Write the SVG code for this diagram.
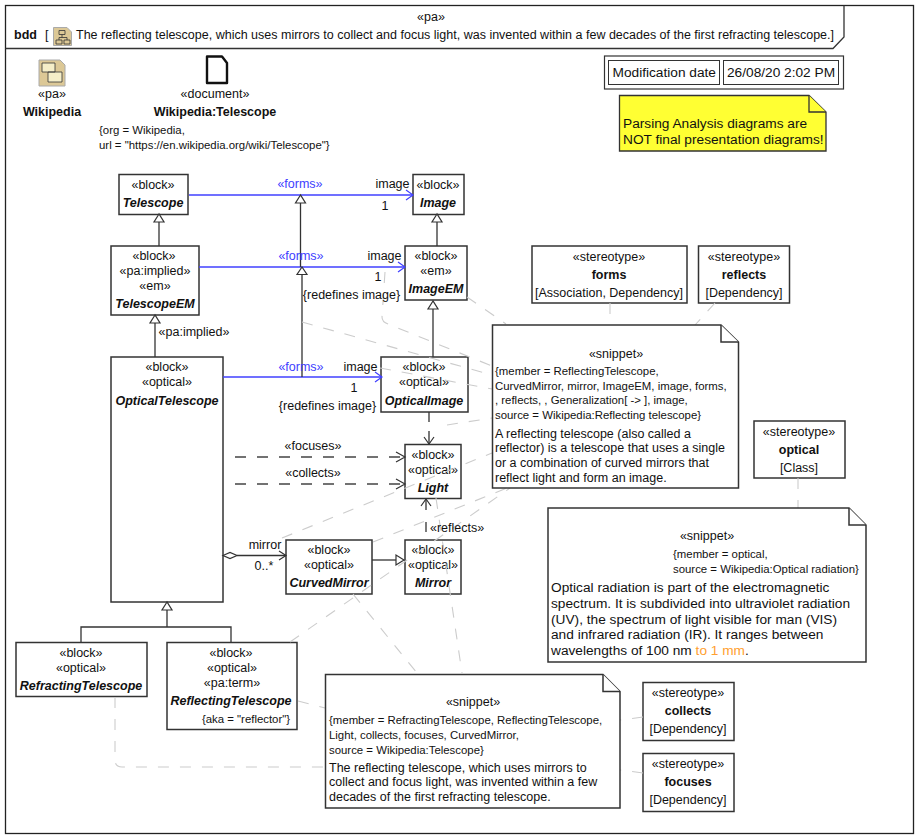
<svg xmlns="http://www.w3.org/2000/svg" width="920" height="840" viewBox="0 0 920 840">
<style>
text{font-family:"Liberation Sans",Arial,sans-serif;font-size:12.5px;fill:#111;text-anchor:middle}
.s{font-size:11.4px}
.m{font-size:13.7px}
.l{text-anchor:start}
.b{font-weight:bold}
.bi{font-weight:bold;font-style:italic}
.box{fill:#fff;stroke:#333;stroke-width:1.5}
.ln{fill:none;stroke:#333;stroke-width:1.3}
.bl{fill:none;stroke:#4040ff;stroke-width:1.3}
.blt{fill:#4040ff}
.dash{fill:none;stroke:#444;stroke-width:1.3;stroke-dasharray:11 11}
.anc{fill:none;stroke:#ccc;stroke-width:1.1;stroke-dasharray:11 11}
.tri{fill:#fff;stroke:#333;stroke-width:1.2}
.op{fill:none;stroke:#333;stroke-width:1.2}
.opb{fill:none;stroke:#4040ff;stroke-width:1.2}
</style>
<rect width="920" height="840" fill="#fff"/>
<g id="frame">
<rect x="5.500" y="5.500" width="908" height="828" fill="#fff" stroke="#222" stroke-width="1.300"/>
<path d="M5.500 48.500H833L844 37V5.500" fill="none" stroke="#333" stroke-width="1.300"/>
<text x="431" y="21">«pa»</text>
<text class="b l" x="14" y="39">bdd</text>
<text class="l" x="45" y="39">[</text>
<path d="M53.500 27.500H67L71.500 32V45.500H53.500Z" fill="#dcc896" stroke="#aaa"/>
<path d="M59 30.500h6v4h-6zM56 40h6v4h-6zM64 40h6v4h-6zM62 34.500v3M59 37.500h8M59 37.500v2.500M67 37.500v2.500" fill="none" stroke="#333" stroke-width=".8"/>
<text class="l" x="76" y="39">The reflecting telescope, which uses mirrors to collect and focus light, was invented within a few decades of the first refracting telescope.]</text>
</g>
<g id="n-wikipedia">
<path d="M39 60H60L65 65V86H39Z" fill="#dcc896" stroke="#aaa"/>
<path d="M42 63h13v9h-13zM48 72h14v10h-14z" fill="#f5eec8" stroke="#333" stroke-width=".8"/>
<text x="52" y="98">«pa»</text><text class="b" x="52" y="116">Wikipedia</text>
</g>
<g id="n-document">
<path d="M207 56.500H222L227 63V83H207Z" fill="#fff" stroke="#111" stroke-width="2.400" stroke-linejoin="round"/>
<text x="215" y="98">«document»</text><text class="b" x="215" y="116">Wikipedia:Telescope</text>
<text class="s l" x="99" y="134">{org = Wikipedia,</text><text class="s l" x="99" y="149">url = "https://en.wikipedia.org/wiki/Telescope"}</text>
</g>
<g id="n-moddate">
<rect x="604.500" y="56" width="239" height="33" fill="#fff" stroke="#333" stroke-width="1.200"/>
<rect x="608.500" y="60.500" width="111" height="24" fill="#fff" stroke="#333"/>
<rect x="723.500" y="60.500" width="115" height="24" fill="#fff" stroke="#333"/>
<text class="l m" x="612.500" y="77">Modification date</text><text class="l m" x="727" y="77">26/08/20 2:02 PM</text>
</g>
<g id="n-warning">
<path d="M619.500 95.500H809L826 112V151H619.500Z" fill="#ffff33" stroke="#333" stroke-width="1.300"/>
<path d="M809 95.500V112H826" fill="#ffff33" stroke="#333" stroke-width="1.300"/>
<text class="l m" x="623" y="128">Parsing Analysis diagrams are</text><text class="l m" x="623" y="144">NOT final presentation diagrams!</text>
</g>
<g id="n-telescope"><rect class="box" x="119" y="174.500" width="69" height="40"/><text x="153" y="189">«block»</text><text class="bi" x="153" y="207">Telescope</text></g>
<g id="n-image"><rect class="box" x="413" y="174.500" width="51" height="40"/><text x="438" y="189">«block»</text><text class="bi" x="438" y="207">Image</text></g>
<g id="n-telescopeem"><rect class="box" x="111" y="246" width="88" height="69"/><text x="154" y="260">«block»</text><text x="155" y="275">«pa:implied»</text><text x="155" y="290">«em»</text><text class="bi" x="155" y="308">TelescopeEM</text></g>
<g id="n-imageem"><rect class="box" x="405" y="246" width="62" height="54"/><text x="436" y="260">«block»</text><text x="436" y="275">«em»</text><text class="bi" x="436" y="293">ImageEM</text></g>
<g id="n-opticaltelescope"><rect class="box" x="111" y="357" width="112" height="245"/><text x="167" y="371">«block»</text><text x="167" y="386">«optical»</text><text class="bi" x="167" y="405">OpticalTelescope</text></g>
<g id="n-opticalimage"><rect class="box" x="381" y="357" width="87" height="55"/><text x="424" y="371">«block»</text><text x="424" y="386">«optical»</text><text class="bi" x="424" y="405">OpticalImage</text></g>
<g id="n-light"><rect class="box" x="405" y="444.500" width="56" height="54"/><text x="433" y="459">«block»</text><text x="433" y="474">«optical»</text><text class="bi" x="433" y="492">Light</text></g>
<g id="n-curvedmirror"><rect class="box" x="286" y="540" width="86" height="54"/><text x="329" y="554">«block»</text><text x="329" y="569">«optical»</text><text class="bi" x="329" y="587">CurvedMirror</text></g>
<g id="n-mirror"><rect class="box" x="405" y="540" width="56" height="54"/><text x="433" y="554">«block»</text><text x="433" y="569">«optical»</text><text class="bi" x="433" y="587">Mirror</text></g>
<g id="n-refracting"><rect class="box" x="16" y="642.500" width="131" height="54"/><text x="81" y="657">«block»</text><text x="81" y="672">«optical»</text><text class="bi" x="81" y="690">RefractingTelescope</text></g>
<g id="n-reflecting"><rect class="box" x="167" y="642.500" width="130" height="87"/><text x="231" y="657">«block»</text><text x="232" y="672">«optical»</text><text x="232" y="687">«pa:term»</text><text class="bi" x="231" y="705">ReflectingTelescope</text><text class="s" x="246" y="723">{aka = "reflector"}</text></g>
<g id="n-forms"><rect class="box" x="532" y="246" width="155" height="57"/><text x="609" y="261">«stereotype»</text><text class="b" x="609" y="279">forms</text><text x="609" y="297">[Association, Dependency]</text></g>
<g id="n-reflects"><rect class="box" x="698.500" y="246" width="91" height="57"/><text x="744" y="261">«stereotype»</text><text class="b" x="744" y="279">reflects</text><text x="744" y="297">[Dependency]</text></g>
<g id="n-optical"><rect class="box" x="754" y="421" width="91" height="57"/><text x="799" y="436">«stereotype»</text><text class="b" x="799" y="454">optical</text><text x="799" y="472">[Class]</text></g>
<g id="n-collects"><rect class="box" x="643" y="682.500" width="91" height="58"/><text x="688" y="697">«stereotype»</text><text class="b" x="688" y="715">collects</text><text x="688" y="733">[Dependency]</text></g>
<g id="n-focuses"><rect class="box" x="643" y="753.500" width="91" height="58"/><text x="688" y="768">«stereotype»</text><text class="b" x="688" y="786">focuses</text><text x="688" y="804">[Dependency]</text></g>
<g id="connectors">
<path class="bl" d="M189 195H413"/><path class="opb" d="M406 190L413 195L406 200"/>
<path class="bl" d="M199 267H405"/><path class="opb" d="M398 262L405 267L398 272"/>
<path class="bl" d="M223 377H382"/><path class="opb" d="M375 372L382 377L375 382"/>
<path class="ln" d="M300.500 203V267M302 274V377"/>
<path class="tri" d="M300.500 195L295.500 203H305.500Z"/>
<path class="tri" d="M302 267L297 274.500H307Z"/>
<path class="ln" d="M159 246V222"/><path class="tri" d="M159 214L154 222H164Z"/>
<path class="ln" d="M155 357V323"/><path class="tri" d="M155 315L150 323H160Z"/>
<path class="ln" d="M437 246V222"/><path class="tri" d="M437 214L432 222H442Z"/>
<path class="ln" d="M433 357V309"/><path class="tri" d="M433 301L428 309H438Z"/>
<path class="ln" d="M429 412V422M429 431V444"/><path class="op" d="M424 437L429 444L434 437"/>
<path class="dash" d="M235 457H404"/><path class="op" d="M396 452L405 457L396 462"/>
<path class="dash" d="M235 484H404"/><path class="op" d="M396 479L405 484L396 489"/>
<path class="ln" d="M426 510V499"/><path class="op" d="M421 506L426 499L431 506"/>
<path class="ln" d="M426 522V532"/>
<path class="ln" d="M237 555.500H286"/><path class="tri" d="M223 555.500L230 552.500L237 555.500L230 558.500Z"/><path class="op" d="M279 551L286 555.500L279 560"/>
<path class="ln" d="M372 560H396"/><path class="tri" d="M404 560L396 555V565Z"/>
<path class="ln" d="M167 610V627M81 642V627H231V643"/><path class="tri" d="M167 602L162 610H172Z"/>
<path class="anc" d="M610 303V325M715 303L695 325M467 297L506 324M302 322L492 375M385 272L382 317Q382 322 388 324L492 366M380 368L492 389M447 425L492 418M282 538L492 453M373 542L507 488M290 642L510 488M298 701L325 708M115 697V760Q115 767 122 767H325M353 594L417 673M436 498L462 673M643 717L620 720M643 773L620 770M798 478V508"/>
</g>
<g id="n-snippet1">
<path class="box" d="M492.500 325H721L738.500 342V488H492.500Z"/><path class="box" d="M721 325V342H738.500"/>
<text x="616" y="358">«snippet»</text>
<text class="s l" x="495" y="375">{member = ReflectingTelescope,</text><text class="s l" x="495" y="390">CurvedMirror, mirror, ImageEM, image, forms,</text><text class="s l" x="495" y="404">, reflects, , Generalization[ -&gt; ], image,</text><text class="s l" x="495" y="419">source = Wikipedia:Reflecting telescope}</text>
<text class="l" x="495" y="438">A reflecting telescope (also called a</text><text class="l" x="495" y="452">reflector) is a telescope that uses a single</text><text class="l" x="495" y="467">or a combination of curved mirrors that</text><text class="l" x="495" y="482">reflect light and form an image.</text>
</g>
<g id="n-snippet2">
<path class="box" d="M548 508H849L866 525V662H548Z"/><path class="box" d="M849 508V525H866"/>
<text x="707" y="540">«snippet»</text>
<text class="s l" x="673" y="558">{member = optical,</text><text class="s l" x="673" y="573">source = Wikipedia:Optical radiation}</text>
<text class="l m" x="551" y="592">Optical radiation is part of the electromagnetic</text><text class="l m" x="551" y="608">spectrum. It is subdivided into ultraviolet radiation</text><text class="l m" x="551" y="624">(UV), the spectrum of light visible for man (VIS)</text><text class="l m" x="551" y="639">and infrared radiation (IR). It ranges between</text><text class="l m" x="551" y="655">wavelengths of 100 nm <tspan fill="#ffa030">to 1 mm</tspan>.</text>
</g>
<g id="n-snippet3">
<path class="box" d="M325.500 674.500H603L620 691.500V808H325.500Z"/><path class="box" d="M603 674.500V691.500H620"/>
<text x="473" y="706">«snippet»</text>
<text class="s l" x="329" y="724">{member = RefractingTelescope, ReflectingTelescope,</text><text class="s l" x="329" y="739">Light, collects, focuses, CurvedMirror,</text><text class="s l" x="329" y="754">source = Wikipedia:Telescope}</text>
<text class="l" x="329" y="772">The reflecting telescope, which uses mirrors to</text><text class="l" x="329" y="786">collect and focus light, was invented within a few</text><text class="l" x="329" y="801">decades of the first refracting telescope.</text>
</g>
<g id="labels">
<text class="blt" x="300" y="188">«forms»</text><text x="392.500" y="188">image</text><text x="385" y="210">1</text>
<text class="blt" x="301" y="260">«forms»</text><text x="384.500" y="260">image</text><text x="378" y="281">1</text><text x="351.500" y="299">{redefines image}</text>
<text x="194" y="336">«pa:implied»</text>
<text class="blt" x="301" y="371">«forms»</text><text x="360.500" y="371">image</text><text x="354" y="392">1</text><text x="327.500" y="410">{redefines image}</text>
<text x="313" y="450">«focuses»</text><text x="313" y="477">«collects»</text><text class="l" x="430" y="532">«reflects»</text>
<text x="265" y="549">mirror</text><text x="264" y="570">0..*</text>
</g>
</svg>
